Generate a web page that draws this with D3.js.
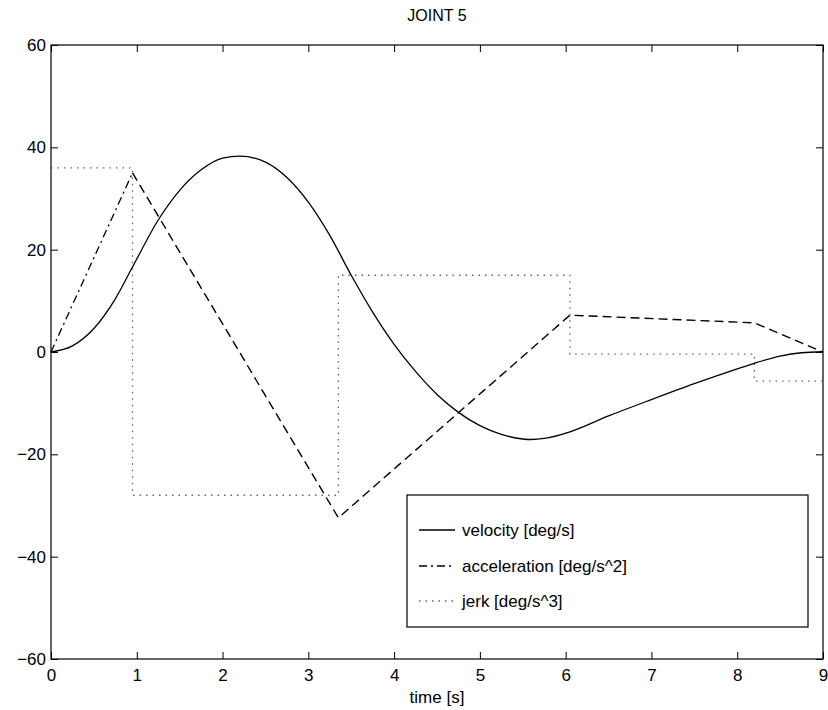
<!DOCTYPE html>
<html>
<head>
<meta charset="utf-8">
<script src="https://cdn.jsdelivr.net/npm/d3@7"></script>
<style>
  html, body { margin: 0; padding: 0; background: #fff; }
  text { font-family: "Liberation Sans", Arial, Helvetica, sans-serif; fill: #000; }
</style>
</head>
<body>
<svg id="chart" width="828" height="710"></svg>
<script>
// ---- data ----
const title = "JOINT 5";
const xLabel = "time [s]";
const xTicks = [0, 1, 2, 3, 4, 5, 6, 7, 8, 9];
const yTicks = [-60, -40, -20, 0, 20, 40, 60];

// velocity [deg/s] (smooth curve)
const velT = [0, 0.25, 0.5, 0.75, 0.95, 1.25, 1.5, 1.75, 2.0, 2.2, 2.5, 2.75, 3.0, 3.25, 3.5, 3.75, 4.0, 4.25, 4.5, 4.75, 5.0, 5.25, 5.5, 5.6, 5.75, 6.05, 6.5, 7.0, 7.5, 8.0, 8.2, 8.5, 8.75, 9.0];
const velV = [0, 1.2, 4.6, 10.4, 16.6, 25.8, 31.6, 35.6, 37.9, 38.3, 37.1, 34.1, 29.3, 22.8, 15.0, 7.8, 1.5, -3.8, -8.3, -11.8, -14.4, -16.1, -17.0, -17.1, -16.9, -15.6, -12.5, -9.3, -6.2, -3.3, -2.2, -0.8, -0.15, 0.05];

// acceleration [deg/s^2] (piecewise linear)
const accT = [0, 0.95, 3.35, 6.05, 8.2, 9.0];
const accV = [0, 35, -32.4, 7.2, 5.7, 0];

// jerk [deg/s^3] (piecewise constant)
const jerkT = [0, 0.95, 3.35, 6.05, 8.2, 9.0];
const jerkV = [36, -28, 15, -0.4, -5.7, -5.7];

const legendLabels = ["velocity [deg/s]", "acceleration [deg/s^2]", "jerk [deg/s^3]"];

// ---- layout ----
const svg = d3.select("#chart");
const L = 51, R = 823, T = 45, B = 659;
const x = d3.scaleLinear().domain([0, 9]).range([L, R]);
const y = d3.scaleLinear().domain([-60, 60]).range([B, T]);
const fontSize = 17;

// title
svg.append("text").attr("x", (L + R) / 2).attr("y", 21)
  .attr("text-anchor", "middle").attr("font-size", 16).text(title);

// axes (ticks inside)
const tickLen = 7;
const fmt = d => d3.format("d")(d).replace("-", "\u2212");
svg.append("g").attr("transform", `translate(0,${B})`)
  .call(d3.axisBottom(x).tickValues(xTicks).tickSizeInner(-tickLen).tickSizeOuter(0).tickPadding(10).tickFormat(fmt))
  .call(g => g.select(".domain").remove())
  .call(g => g.selectAll("text").attr("font-size", fontSize).attr("font-family", "Liberation Sans, Arial, sans-serif"));
svg.append("g").attr("transform", `translate(0,${T})`)
  .call(d3.axisTop(x).tickValues(xTicks).tickSizeInner(-tickLen).tickSizeOuter(0).tickFormat(""))
  .call(g => g.select(".domain").remove());
svg.append("g").attr("transform", `translate(${L},0)`)
  .call(d3.axisLeft(y).tickValues(yTicks).tickSizeInner(-tickLen).tickSizeOuter(0).tickPadding(5).tickFormat(fmt))
  .call(g => g.select(".domain").remove())
  .call(g => g.selectAll("text").attr("font-size", fontSize).attr("font-family", "Liberation Sans, Arial, sans-serif"));
svg.append("g").attr("transform", `translate(${R},0)`)
  .call(d3.axisRight(y).tickValues(yTicks).tickSizeInner(-tickLen).tickSizeOuter(0).tickFormat(""))
  .call(g => g.select(".domain").remove());

svg.append("rect").attr("x", L).attr("y", T).attr("width", R - L).attr("height", B - T)
  .attr("fill", "none").attr("stroke", "#000").attr("stroke-width", 1.2);

// x label
svg.append("text").attr("x", (L + R) / 2).attr("y", 703)
  .attr("text-anchor", "middle").attr("font-size", 17).text(xLabel);

// ---- lines ----
const velData = velT.map((t, i) => [t, velV[i]]);
const accData = accT.map((t, i) => [t, accV[i]]);
const jerkData = jerkT.map((t, i) => [t, jerkV[i]]);

// jerk
svg.append("path").datum(jerkData)
  .attr("d", d3.line().x(d => x(d[0])).y(d => y(d[1])).curve(d3.curveStepAfter))
  .attr("fill", "none").attr("stroke", "#666").attr("stroke-width", 1.3)
  .attr("stroke-dasharray", "1.5,5");

// acceleration: first segment dash-dot, rest dashed
const lin = d3.line().x(d => x(d[0])).y(d => y(d[1])).curve(d3.curveLinear);
svg.append("path").datum(accData.slice(0, 2))
  .attr("d", lin)
  .attr("fill", "none").attr("stroke", "#000").attr("stroke-width", 1.3)
  .attr("stroke-dasharray", "8,4,2,4");
svg.append("path").datum(accData.slice(1))
  .attr("d", lin)
  .attr("fill", "none").attr("stroke", "#000").attr("stroke-width", 1.4)
  .attr("stroke-dasharray", "9,5");

// velocity
svg.append("path").datum(velData)
  .attr("d", d3.line().x(d => x(d[0])).y(d => y(d[1])).curve(d3.curveMonotoneX))
  .attr("fill", "none").attr("stroke", "#000").attr("stroke-width", 1.3);

// ---- legend ----
const lg = svg.append("g");
const LX = 407, LY = 495, LW = 401, LH = 132;
lg.append("rect").attr("x", LX).attr("y", LY).attr("width", LW).attr("height", LH)
  .attr("fill", "#fff").attr("stroke", "#000").attr("stroke-width", 1.2);
const rowY = [530, 566, 601];
const styles = [
  { dash: null, color: "#000" },
  { dash: "8,4,2,4", color: "#000" },
  { dash: "1.5,5", color: "#666" }
];
legendLabels.forEach((lab, i) => {
  lg.append("line").attr("x1", 419).attr("x2", 455).attr("y1", rowY[i]).attr("y2", rowY[i])
    .attr("stroke", styles[i].color).attr("stroke-width", 1.3)
    .attr("stroke-dasharray", styles[i].dash);
  lg.append("text").attr("x", 462).attr("y", rowY[i]).attr("dy", "0.35em")
    .attr("font-size", 17).text(lab);
});
</script>
</body>
</html>
